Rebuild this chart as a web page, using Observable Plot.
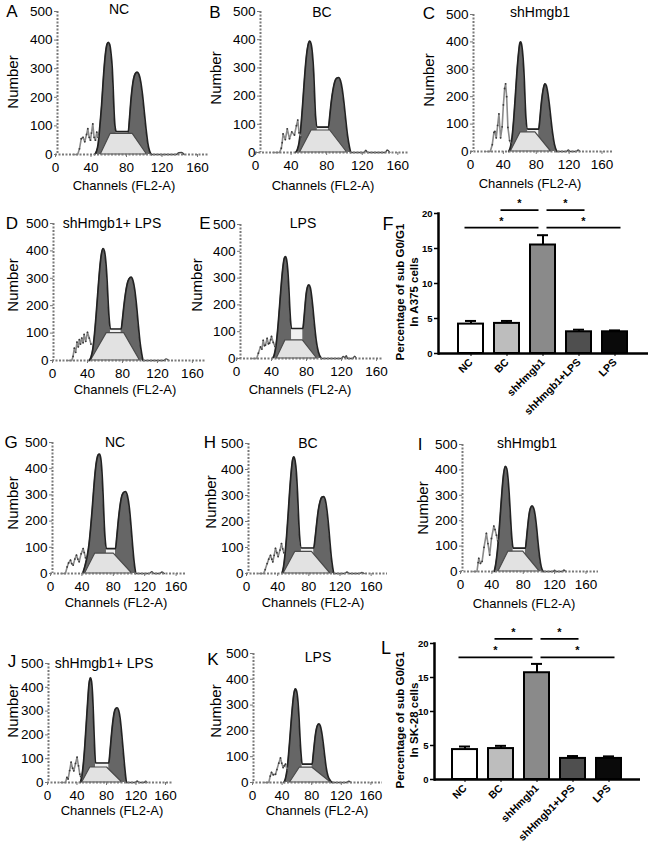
<!DOCTYPE html>
<html><head><meta charset="utf-8">
<script src="https://cdn.jsdelivr.net/npm/d3@7"></script>
<script src="https://cdn.jsdelivr.net/npm/@observablehq/plot@0.6"></script>
<style>
body{margin:0;background:#fff;}
#fig{position:relative;width:650px;height:843px;overflow:hidden;font-family:"Liberation Sans",Arial,sans-serif;color:#000;}
.lbl{position:absolute;white-space:nowrap;transform:translate(-50%,-50%);line-height:1;}
</style></head><body><div id="fig"></div>
<script>
// ---------------- DATA ----------------
const xTicks = [0, 40, 80, 120, 160];
const yTicks = [0, 100, 200, 300, 400, 500];
const barTicks = [0, 5, 10, 15, 20];
const cats = ["NC", "BC", "shHmgb1", "shHmgb1+LPS", "LPS"];

// Panel A (A375, NC)
const subA = [[20,0],[25,0],[27,20],[29,55],[31,60],[33,45],[35,70],[36.4,90],[38,60],[39.4,50],[40.5,75],[42,107],[43.5,60],[45,50],[46.5,78],[48,60]];
const fitA = [[44,0],[46,10],[48,35],[50,100],[52,175],[54,270],[56,345],[58,385],[59.5,392],[61,385],[62.5,355],[64,300],[65,230],[66,150],[67,100],[68.5,80],[82,80],[83.5,130],[85,190],[86.5,235],[88,265],[90,283],[92,288],[94,280],[96,255],[98,210],[100,150],[102,90],[104,40],[106,12],[108,0]];
const sA = [[51,0],[62,72],[87,72],[103,0]];
const flatA = [[68.5,80],[82,80]];
const tailA = [[108,0],[136,0],[139,6],[142,7],[145,0]];
// Panel B (A375, BC)
const subB = [[20,0],[27,0],[29,15],[30,35],[31,66],[33.5,46],[35.7,84],[38.2,49],[40.8,73],[43.8,62],[46,95],[47.5,115],[49,70],[51,55]];
const fitB = [[45,0],[47,10],[49,35],[51,90],[53,170],[55,260],[57,335],[59,380],[61,395],[62.5,385],[64,350],[65.5,280],[66.5,200],[67.5,130],[69.5,90],[82,90],[83.5,130],[85,175],[87,220],[89,250],[91,263],[93.6,266],[95.5,255],[97.5,225],[99.5,175],[101.5,115],[103.5,60],[105.5,22],[107,0]];
const sB = [[50,0],[63,78],[84,78],[103,0]];
const flatB = [[69.5,90],[82,90]];
const tailB = [[107,0],[122,0],[124,8],[126,0],[146,0],[148,9],[151,0]];
// Panel C (A375, shHmgb1)
const subC = [[20,0],[24,0],[26.5,25],[28.5,70],[29.7,73],[31.3,50],[33,95],[34.6,137],[36.6,50],[38.5,90],[40,170],[41.5,230],[42.7,247],[44,200],[45.5,88],[47.6,40],[49,30]];
const fitC = [[46.5,0],[48.5,15],[50.5,50],[52.5,115],[54.5,200],[56.5,290],[58.5,360],[60,395],[61,400],[62.5,385],[64,340],[65.5,260],[66.5,180],[67.5,120],[69.5,82],[83,82],[84.3,115],[85.8,165],[87.3,205],[89,235],[90.6,247],[92.3,240],[94,215],[96,170],[98,115],[100,65],[102,28],[105,0]];
const sC = [[49,0],[61,70],[79,70],[98,0]];
const flatC = [[69.5,82],[83,82]];
const tailC = [[105,0],[117,0],[119,6],[121,0],[129,0],[131,6],[133,0]];
// Panel D (A375, shHmgb1+LPS)
const subD = [[18,0],[22,0],[23.5,15],[25,45],[26.5,30],[28,67],[29.5,50],[30.7,76],[32,60],[33.5,82],[35,65],[36.2,95],[38,70],[40,103],[42,82],[44,60]];
const fitD = [[42,0],[44,12],[46,40],[48,95],[50,170],[52,255],[54,335],[56,390],[57.9,408],[59.5,398],[61,360],[62.5,290],[63.7,210],[65,145],[66.3,115],[78.5,115],[80,150],[81.5,195],[83.5,245],[85.5,280],[87.5,298],[89.9,304],[92,292],[94,260],[96,205],[98,135],[100,70],[102,25],[103.5,0]];
const sD = [[44,0],[62,100],[82,100],[100,0]];
const flatD = [[66.3,115],[78.5,115]];
const tailD = [[103.5,0],[127,0],[130,6],[133,0]];
// Panel E (A375, LPS)
const subE = [[18,0],[23,0],[25,20],[27.4,43],[29,35],[30.5,68],[32,48],[33.1,50],[35,75],[36.5,55],[37.7,57],[39,70],[40,82],[42,60],[44,45]];
const fitE = [[41,0],[43,12],[45,45],[47,105],[49,185],[51,270],[53,340],[54.7,375],[56,380],[57.3,368],[58.6,330],[59.8,265],[60.8,195],[61.8,140],[62.9,112],[75.8,112],[77,145],[78.3,195],[79.6,240],[81,266],[82.7,275],[84.3,265],[85.8,235],[87.3,190],[89,130],[91,70],[93.5,25],[97,0]];
const sE = [[46,0],[56,68],[75.8,68],[92,0]];
const flatE = [[62.9,112],[75.8,112]];
const tailE = [[97,0],[120,0],[122,8],[124,3],[125.5,10],[127,0],[133,0],[135,9],[137,0]];
// Panel G (SK-28, NC)
const subG = [[14,0],[19,0],[21.2,25],[23,40],[25.5,51],[27,38],[28.9,32],[31,55],[33.1,70],[34.8,55],[36.5,45],[39,75],[41.6,95],[43,80],[44.6,60]];
const fitG = [[41,0],[44,30],[47,70],[49,110],[51,170],[53,240],[55,320],[57,390],[59,435],[60.8,453],[62.4,456],[64,440],[65.5,390],[67,300],[68.3,200],[69.5,135],[71.3,95],[82.8,95],[84.3,135],[86,190],[88,245],[90,285],[92.5,307],[95.5,313],[98,297],[100.5,250],[102.5,185],[104.5,110],[106.5,45],[108.5,0]];
const sG = [[44,0],[57,76],[80.6,76],[104,0]];
const flatG = [[71.3,95],[82.8,95]];
const tailG = [[108.5,0],[126,0],[129,7],[132,0],[139,0],[142,6],[145,0]];
// Panel H (SK-28, BC)
const subH = [[16,0],[22,0],[24,15],[26.5,38],[28.5,55],[30.8,70],[32.5,55],[33.8,45],[35.5,70],[37.2,97],[39,80],[40.6,65],[43,90],[44.9,115],[46.5,95],[48,80]];
const fitH = [[45.5,0],[47.5,25],[49.5,75],[51.5,145],[53.5,230],[55.5,320],[57.5,395],[59.2,438],[60.7,449],[62.3,435],[64,390],[65.5,310],[66.8,220],[68,150],[70.5,98],[86.3,98],[88,135],[90,190],[92,240],[94.5,278],[97,294],[99,296],[101,285],[103,250],[105,195],[107,125],[109,60],[110.8,20],[112,0]];
const sH = [[47.6,0],[62.5,83],[84,83],[107.7,0]];
const flatH = [[70.5,98],[86.3,98]];
const tailH = [[112,0],[126,0],[129,6],[132,0],[145,0],[148,4],[151,0]];
// Panel I (SK-28, shHmgb1)
const subI = [[16,0],[21,0],[22.5,35],[23.3,52],[25.4,32],[27.6,40],[30,95],[33,150],[35,110],[37.2,65],[39.5,130],[42.5,179],[44,165],[45.9,143],[47.5,120]];
const fitI = [[43,0],[45,30],[47,80],[49,150],[51,235],[53,320],[55,385],[57.3,414],[59,405],[60.5,370],[62,310],[63.5,230],[64.8,160],[65.8,120],[67.1,92],[82.8,92],[84.2,130],[85.8,180],[87.5,225],[89.3,250],[91.3,258],[93.2,250],[95,225],[97,175],[99,110],[101,55],[103,18],[105.3,0]];
const sI = [[48.4,0],[61,78],[80,78],[101,0]];
const flatI = [[67.1,92],[82.8,92]];
const tailI = [[105.3,0],[118,0],[120,5],[122,0],[130,0],[132,6],[134,0]];
// Panel J (SK-28, shHmgb1+LPS)
const subJ = [[18,0],[24.4,0],[26.3,21],[28,15],[30,50],[32,85],[34,60],[35.7,49],[38,80],[40.1,106],[42,70],[43.8,35],[45,25]];
const fitJ = [[44.5,0],[46.5,25],[48.5,75],[50.5,150],[52.5,245],[54.5,340],[56.3,415],[58.3,440],[59.7,425],[61,375],[62.2,290],[63.2,200],[64.2,125],[65.1,82],[83.1,82],[84.6,125],[86.3,185],[88.2,245],[90.2,290],[92.3,310],[94.5,314],[96.5,303],[98.5,270],[100.5,210],[102.5,140],[104.5,70],[106,25],[107,0]];
const sJ = [[47,0],[58,63],[80.8,63],[101.3,0]];
const flatJ = [[65.1,82],[83.1,82]];
const tailJ = [[107,0],[119,0],[121.6,6],[124,0],[131,0],[133,5],[135,0]];
// Panel K (SK-28, LPS)
const subK = [[16,0],[22,0],[24,25],[25.7,39],[28,30],[31.1,32],[33,50],[35.5,75],[37.8,95],[39.5,75],[41.4,58],[43,65],[44.6,71],[46.8,50]];
const fitK = [[42.5,0],[44.5,15],[46.5,45],[48.5,100],[50.5,170],[52.5,245],[54.5,310],[56.3,350],[58.1,363],[59.8,352],[61.4,315],[62.9,250],[64.2,175],[65.6,110],[67.1,71],[80.6,71],[82,105],[83.6,150],[85.3,190],[87.3,218],[89.6,227],[91.6,220],[93.5,195],[95.5,155],[97.5,105],[99.5,60],[102,25],[105,8],[107.7,0]];
const sK = [[50.7,0],[64,58],[80.6,58],[105.9,0]];
const flatK = [[67.1,71],[80.6,71]];
const tailK = [[107.7,0],[127,0],[130,5],[133,0]];

// Bar charts: percentage of sub G0/G1
const valsF = [4.2, 4.3, 15.5, 3.1, 3.1];
const errsF = [0.45, 0.35, 1.4, 0.3, 0.2];
const valsL = [4.4, 4.55, 15.7, 3.1, 3.1];
const errsL = [0.45, 0.4, 1.3, 0.35, 0.3];
const sigF = [{a:"BC", b:"shHmgb1", y:20.4}, {a:"shHmgb1", b:"shHmgb1+LPS", y:20.4}, {a:"NC", b:"shHmgb1", y:17.9}, {a:"shHmgb1", b:"LPS", y:17.9}];
const sigL = [{a:"BC", b:"shHmgb1", y:20.6}, {a:"shHmgb1", b:"shHmgb1+LPS", y:20.6}, {a:"NC", b:"shHmgb1", y:17.9}, {a:"shHmgb1", b:"LPS", y:17.9}];

// ---------------- STYLE / LAYOUT ----------------
const barFills = ["#ffffff", "#bdbdbd", "#8a8a8a", "#4f4f4f", "#0a0a0a"];
const FONT = "Liberation Sans, Arial, sans-serif";
const fig = document.getElementById("fig");

function label(text, x, y, o = {}) {
  const d = document.createElement("div");
  d.className = "lbl";
  d.textContent = text;
  d.style.left = x + "px";
  d.style.top = y + "px";
  d.style.fontSize = (o.size || 13) + "px";
  if (o.bold) d.style.fontWeight = "bold";
  if (o.rotate) d.style.transform = "translate(-50%,-50%) rotate(-90deg)";
  fig.appendChild(d);
}
function place(el, left, top) {
  el.style.position = "absolute";
  el.style.left = left + "px";
  el.style.top = top + "px";
  fig.appendChild(el);
}

const histPanels = [
  {L:"A", T:"NC", X0:55, X1:208, ax:2, Y5:11, Y0:154, xmax:172.4, sub:subA, fit:fitA, s:sA, flat:flatA, tail:tailA, lp:[12,11], tp:[119,9], np:[12,82], cp:[124,185]},
  {L:"B", T:"BC", X0:255, X1:408, ax:5, Y5:11, Y0:152, xmax:172, sub:subB, fit:fitB, s:sB, flat:flatB, tail:tailB, lp:[215,12], tp:[322,12], np:[215,78], cp:[323,185]},
  {L:"C", T:"shHmgb1", X0:470, X1:613, ax:3, Y5:14, Y0:151, xmax:174, sub:subC, fit:fitC, s:sC, flat:flatC, tail:tailC, lp:[429,13], tp:[540,12], np:[428,80], cp:[530,183]},
  {L:"D", T:"shHmgb1+ LPS", X0:52, X1:205, ax:1, Y5:223, Y0:360, xmax:175, sub:subD, fit:fitD, s:sD, flat:flatD, tail:tailD, lp:[12,223], tp:[112,223], np:[12,285], cp:[125,389]},
  {L:"E", T:"LPS", X0:236, X1:383, ax:4, Y5:224, Y0:358, xmax:168, sub:subE, fit:fitE, s:sE, flat:flatE, tail:tailE, lp:[205,223], tp:[303,223], np:[196,285], cp:[300,389]},
  {L:"G", T:"NC", X0:50, X1:185, ax:2, Y5:442, Y0:573, xmax:172, sub:subG, fit:fitG, s:sG, flat:flatG, tail:tailG, lp:[11,442], tp:[115,442], np:[12,503], cp:[116,602]},
  {L:"H", T:"BC", X0:246, X1:387, ax:2, Y5:443, Y0:573, xmax:181, sub:subH, fit:fitH, s:sH, flat:flatH, tail:tailH, lp:[210,442], tp:[308,443], np:[210,502], cp:[313,602]},
  {L:"I", T:"shHmgb1", X0:460, X1:598, ax:2, Y5:444, Y0:571, xmax:176, sub:subI, fit:fitI, s:sI, flat:flatI, tail:tailI, lp:[420,444], tp:[527,443], np:[422,508], cp:[524,603]},
  {L:"J", T:"shHmgb1+ LPS", X0:47, X1:172, ax:1, Y5:663, Y0:782, xmax:169.5, sub:subJ, fit:fitJ, s:sJ, flat:flatJ, tail:tailJ, lp:[12,661], tp:[104,663], np:[12,711], cp:[112,810]},
  {L:"K", T:"LPS", X0:252, X1:382, ax:1, Y5:653, Y0:782, xmax:175.7, sub:subK, fit:fitK, s:sK, flat:flatK, tail:tailK, lp:[213,659], tp:[318,657], np:[215,711], cp:[317,810]}
];

function hist(p) {
  const ML = 40, MR = 4, MT = 8, MB = 24;
  const W = p.X1 - p.X0 + ML + MR;
  const H = p.Y0 - p.Y5 + MT + MB;
  const X = d => d[0], Y = d => d[1];
  const chart = Plot.plot({
    width: W, height: H, marginLeft: ML, marginRight: MR, marginTop: MT, marginBottom: MB,
    style: {background: "transparent", fontFamily: FONT, overflow: "visible", color: "#000"},
    x: {domain: [0, p.xmax]},
    y: {domain: [0, 500]},
    marks: [
      Plot.areaY(p.fit, {x: X, y: Y, fill: "#666666", curve: "monotone-x"}),
      Plot.areaY(p.flat, {x: X, y: Y, fill: "#f0f0f0"}),
      Plot.areaY(p.s, {x: X, y: Y, fill: "#e2e2e2", stroke: "#4a4a4a", strokeWidth: 1.2}),
      Plot.line(p.fit, {x: X, y: Y, stroke: "#222", strokeWidth: 1.7, curve: "monotone-x"}),
      Plot.line(p.sub, {x: X, y: Y, stroke: "#8a8a8a", strokeWidth: 1.6}),
      Plot.dot(p.sub.filter(d => d[1] > 0), {x: X, y: Y, r: 0.9, fill: "#3a3a3a"}),
      Plot.line(p.tail, {x: X, y: Y, stroke: "#444", strokeWidth: 1.4, curve: "monotone-x"}),
      Plot.ruleY([0], {stroke: "#7a7a7a", strokeWidth: 2, strokeDasharray: "2,1.5"}),
      Plot.ruleX([0], {stroke: "#7a7a7a", strokeWidth: 2, strokeDasharray: "2,1.5", dx: p.ax}),
      Plot.axisX({ticks: xTicks, tickSize: 3, tickPadding: 5, fontSize: 13.5, label: null, stroke: "#777"}),
      Plot.axisY({ticks: yTicks, tickSize: 3, tickPadding: 2, fontSize: 13.5, label: null, stroke: "#777", dx: p.ax})
    ]
  });
  place(chart, p.X0 - ML, p.Y5 - MT);
  label(p.L, p.lp[0], p.lp[1], {size: 17});
  label(p.T, p.tp[0], p.tp[1], {size: 14});
  label("Number", p.np[0], p.np[1], {size: 15, rotate: true});
  label("Channels  (FL2-A)", p.cp[0], p.cp[1], {size: 13});
}
histPanels.forEach(hist);

function sigMark(sig) {
  return (...args) => {
    const sc = args.find(a => a && typeof a.x === "function" && typeof a.y === "function");
    const x = sc.x, y = sc.y;
    const bw = typeof x.bandwidth === "function" ? x.bandwidth() : (x.bandwidth || 0);
    const g = d3.create("svg:g");
    for (const s of sig) {
      const xa = x(s.a) + bw / 2, xb = x(s.b) + bw / 2, yy = y(s.y);
      const x1 = s.a === "shHmgb1" ? xa + 4 : xa - 6;
      const x2 = s.b === "shHmgb1" ? xb - 4 : xb + 6;
      g.append("line").attr("x1", x1).attr("x2", x2).attr("y1", yy).attr("y2", yy)
        .attr("stroke", "#000").attr("stroke-width", 1.8);
      g.append("text").attr("x", (x1 + x2) / 2).attr("y", yy - 3).attr("text-anchor", "middle")
        .attr("font-size", 11).attr("font-weight", "bold").attr("font-family", FONT).text("*");
    }
    return g.node();
  };
}

const barPanels = [
  {L:"F", vals:valsF, errs:errsF, sig:sigF, left:380, top:190, W:270, H:235, ML:58, MR:2, MT:23, MB:72, lp:[388,224], yl:["Percentage of sub G0/G1", "In A375 cells"], ylx:[401,415], yly:292},
  {L:"L", vals:valsL, errs:errsL, sig:sigL, left:380, top:615, W:270, H:228, ML:54, MR:10, MT:28, MB:64, lp:[386,648], yl:["Percentage of sub G0/G1", "In SK-28 cells"], ylx:[401,415], yly:720}
];

function bars(p) {
  const data = cats.map((c, i) => ({c, v: p.vals[i], e: p.errs[i]}));
  const chart = Plot.plot({
    width: p.W, height: p.H, marginLeft: p.ML, marginRight: p.MR, marginTop: p.MT, marginBottom: p.MB,
    style: {background: "transparent", fontFamily: FONT, overflow: "visible", color: "#000"},
    x: {domain: cats, paddingInner: 0.3, paddingOuter: 0.5, label: null},
    y: {domain: [0, 20], label: null},
    color: {type: "identity"},
    marks: [
      Plot.ruleX(data, {x: "c", y1: "v", y2: d => d.v + d.e, strokeWidth: 2}),
      Plot.tickY(data, {x: "c", y: d => d.v + d.e, strokeWidth: 2, insetLeft: 7, insetRight: 7}),
      Plot.barY(data, {x: "c", y: "v", fill: (d, i) => barFills[i], stroke: "#000", strokeWidth: 2}),
      Plot.ruleY([0], {strokeWidth: 2.5}),
      Plot.frame({anchor: "left", strokeWidth: 2.5}),
      Plot.axisY({ticks: barTicks, tickSize: 4, tickPadding: 2, fontSize: 9.5, fontWeight: "bold", label: null, strokeWidth: 1.5}),
      Plot.axisX({tickSize: 3, tickRotate: -45, tickPadding: 4, fontSize: 10.5, fontWeight: "bold", label: null}),
      sigMark(p.sig)
    ]
  });
  place(chart, p.left, p.top);
  label(p.L, p.lp[0], p.lp[1], {size: 18});
  label(p.yl[0], p.ylx[0], p.yly, {size: 11.5, bold: true, rotate: true});
  label(p.yl[1], p.ylx[1], p.yly, {size: 11.5, bold: true, rotate: true});
}
barPanels.forEach(bars);
</script></body></html>
